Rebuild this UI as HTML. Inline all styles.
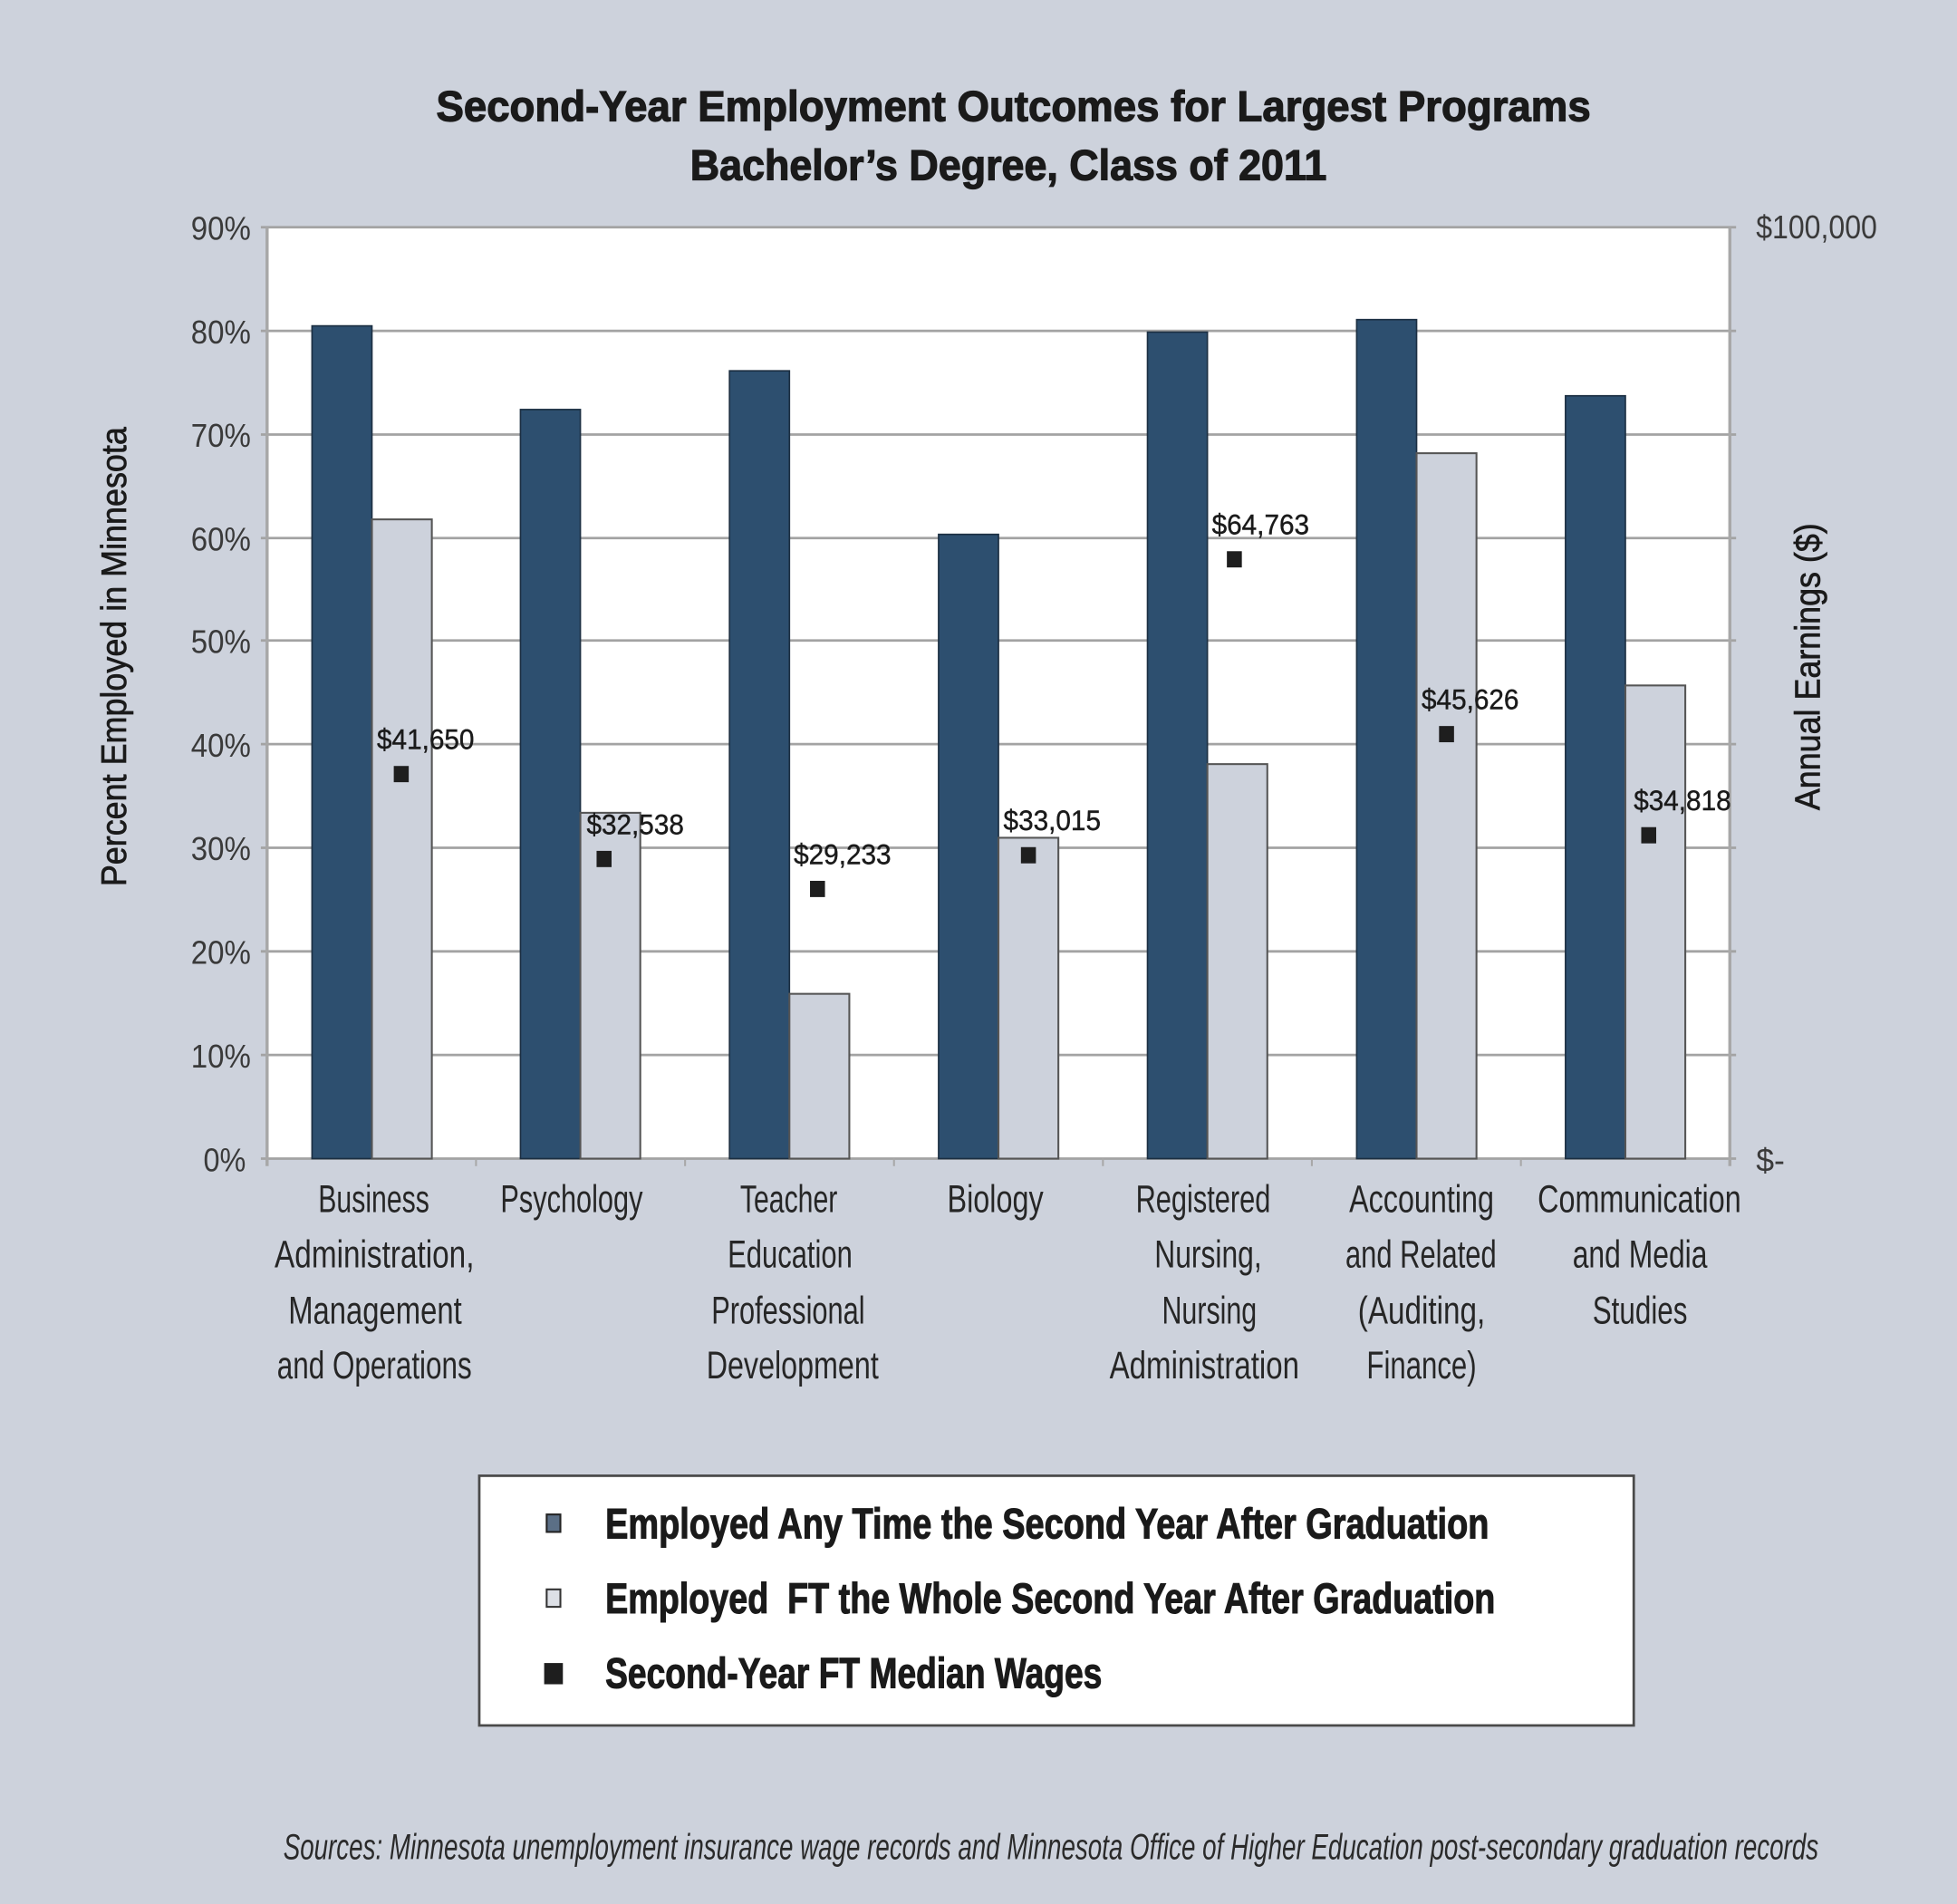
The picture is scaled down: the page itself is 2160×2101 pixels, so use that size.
<!DOCTYPE html>
<html><head><meta charset="utf-8"><style>
html,body{margin:0;padding:0;background:#cdd2dc;}
svg{display:block;}
text{font-family:"Liberation Sans Narrow","Liberation Sans",sans-serif;}
</style></head><body>
<svg width="2160" height="2101" viewBox="0 0 1568 1525" preserveAspectRatio="none" xmlns="http://www.w3.org/2000/svg">
<rect x="0" y="0" width="1568" height="1525" fill="#cdd2dc"/>
<!-- title -->
<g fill="#1a1a1a" stroke="#1a1a1a" stroke-width="0.9" font-weight="bold" font-size="34">
<text x="812" y="97" text-anchor="middle" textLength="925" lengthAdjust="spacingAndGlyphs">Second-Year Employment Outcomes for Largest Programs</text>
<text x="808" y="144" text-anchor="middle" textLength="510" lengthAdjust="spacingAndGlyphs">Bachelor’s Degree, Class of 2011</text>
</g>
<!-- plot area -->
<rect x="214" y="182" width="1172" height="746" fill="#ffffff"/>
<g stroke="#a3a3a3" stroke-width="2">
<line x1="209" y1="182" x2="1391" y2="182"/>
<line x1="209" y1="265" x2="1391" y2="265"/>
<line x1="209" y1="348" x2="1391" y2="348"/>
<line x1="209" y1="431" x2="1391" y2="431"/>
<line x1="209" y1="513" x2="1391" y2="513"/>
<line x1="209" y1="596" x2="1391" y2="596"/>
<line x1="209" y1="679" x2="1391" y2="679"/>
<line x1="209" y1="762" x2="1391" y2="762"/>
<line x1="209" y1="845" x2="1391" y2="845"/>
<line x1="209" y1="928" x2="1391" y2="928"/>
</g>
<g stroke="#a8a8a8" stroke-width="2.5">
<line x1="214" y1="182" x2="214" y2="934"/>
<line x1="1386" y1="182" x2="1386" y2="934"/>
</g>
<g stroke="#a8a8a8" stroke-width="1.5">
<line x1="381.4" y1="928" x2="381.4" y2="934"/>
<line x1="548.9" y1="928" x2="548.9" y2="934"/>
<line x1="716.3" y1="928" x2="716.3" y2="934"/>
<line x1="883.7" y1="928" x2="883.7" y2="934"/>
<line x1="1051.1" y1="928" x2="1051.1" y2="934"/>
<line x1="1218.6" y1="928" x2="1218.6" y2="934"/>
</g>
<!-- dark bars -->
<g fill="#2d4f6f" stroke="#1c2f42" stroke-width="1.2">
<rect x="250" y="261" width="48" height="667"/>
<rect x="417" y="328" width="48" height="600"/>
<rect x="584.5" y="297" width="48" height="631"/>
<rect x="752" y="428" width="48" height="500"/>
<rect x="919.4" y="266" width="48" height="662"/>
<rect x="1087" y="256" width="48" height="672"/>
<rect x="1254.3" y="317" width="48" height="611"/>
</g>
<!-- light bars -->
<g fill="#cdd2dc" stroke="#555" stroke-width="1.5">
<rect x="298" y="416" width="48" height="512"/>
<rect x="465" y="651" width="48" height="277"/>
<rect x="632.5" y="796" width="48" height="132"/>
<rect x="800" y="671" width="48" height="257"/>
<rect x="967.4" y="612" width="48" height="316"/>
<rect x="1135" y="363" width="48" height="565"/>
<rect x="1302.3" y="549" width="48" height="379"/>
</g>
<!-- markers -->
<g fill="#1e1e1e">
<rect x="315.5" y="613.5" width="12" height="13"/>
<rect x="478" y="681.5" width="12" height="13"/>
<rect x="649" y="705.5" width="12" height="13"/>
<rect x="818" y="678.5" width="12" height="13"/>
<rect x="983" y="441.5" width="12" height="13"/>
<rect x="1153" y="581.5" width="12" height="13"/>
<rect x="1315" y="662.5" width="12" height="13"/>
</g>
<g font-size="23" fill="#1a1a1a" stroke="#1a1a1a" stroke-width="0.3" text-anchor="middle">
<text x="341" y="600" textLength="78" lengthAdjust="spacingAndGlyphs">$41,650</text>
<text x="509" y="668" textLength="78" lengthAdjust="spacingAndGlyphs">$32,538</text>
<text x="675" y="692" textLength="78" lengthAdjust="spacingAndGlyphs">$29,233</text>
<text x="843" y="665" textLength="78" lengthAdjust="spacingAndGlyphs">$33,015</text>
<text x="1010" y="428" textLength="78" lengthAdjust="spacingAndGlyphs">$64,763</text>
<text x="1178" y="568" textLength="78" lengthAdjust="spacingAndGlyphs">$45,626</text>
<text x="1348" y="649" textLength="78" lengthAdjust="spacingAndGlyphs">$34,818</text>
</g>
<!-- left ticks -->
<g font-size="26" fill="#3a3a3a" text-anchor="end">
<text x="201" y="192" textLength="48" lengthAdjust="spacingAndGlyphs">90%</text>
<text x="201" y="275" textLength="48" lengthAdjust="spacingAndGlyphs">80%</text>
<text x="201" y="358" textLength="48" lengthAdjust="spacingAndGlyphs">70%</text>
<text x="201" y="441" textLength="48" lengthAdjust="spacingAndGlyphs">60%</text>
<text x="201" y="523" textLength="48" lengthAdjust="spacingAndGlyphs">50%</text>
<text x="201" y="606" textLength="48" lengthAdjust="spacingAndGlyphs">40%</text>
<text x="201" y="689" textLength="48" lengthAdjust="spacingAndGlyphs">30%</text>
<text x="201" y="772" textLength="48" lengthAdjust="spacingAndGlyphs">20%</text>
<text x="201" y="855" textLength="48" lengthAdjust="spacingAndGlyphs">10%</text>
<text x="197" y="938" textLength="34" lengthAdjust="spacingAndGlyphs">0%</text>
</g>
<g font-size="26" fill="#3a3a3a">
<text x="1407" y="191" textLength="97" lengthAdjust="spacingAndGlyphs">$100,000</text>
<text x="1407" y="938" textLength="23" lengthAdjust="spacingAndGlyphs">$-</text>
</g>
<!-- axis titles -->
<text transform="translate(101,526) rotate(-90)" text-anchor="middle" font-size="28" fill="#1a1a1a" stroke="#1a1a1a" stroke-width="0.5" textLength="368" lengthAdjust="spacingAndGlyphs">Percent Employed in Minnesota</text>
<text transform="translate(1458,534) rotate(-90)" text-anchor="middle" font-size="28" fill="#1a1a1a" stroke="#1a1a1a" stroke-width="0.5" textLength="230" lengthAdjust="spacingAndGlyphs">Annual Earnings ($)</text>
<!-- category labels -->
<g font-size="31" fill="#262626" text-anchor="middle">
<text x="299.5" y="971" textLength="89" lengthAdjust="spacingAndGlyphs">Business</text>
<text x="300" y="1015" textLength="160" lengthAdjust="spacingAndGlyphs">Administration,</text>
<text x="300.5" y="1060" textLength="139" lengthAdjust="spacingAndGlyphs">Management</text>
<text x="300" y="1104" textLength="156" lengthAdjust="spacingAndGlyphs">and Operations</text>
<text x="458" y="971" textLength="114" lengthAdjust="spacingAndGlyphs">Psychology</text>
<text x="632" y="971" textLength="78" lengthAdjust="spacingAndGlyphs">Teacher</text>
<text x="633" y="1015" textLength="100" lengthAdjust="spacingAndGlyphs">Education</text>
<text x="631.5" y="1060" textLength="123" lengthAdjust="spacingAndGlyphs">Professional</text>
<text x="635" y="1104" textLength="138" lengthAdjust="spacingAndGlyphs">Development</text>
<text x="797.5" y="971" textLength="77" lengthAdjust="spacingAndGlyphs">Biology</text>
<text x="964" y="971" textLength="108" lengthAdjust="spacingAndGlyphs">Registered</text>
<text x="968" y="1015" textLength="86" lengthAdjust="spacingAndGlyphs">Nursing,</text>
<text x="969" y="1060" textLength="76" lengthAdjust="spacingAndGlyphs">Nursing</text>
<text x="965" y="1104" textLength="152" lengthAdjust="spacingAndGlyphs">Administration</text>
<text x="1139" y="971" textLength="116" lengthAdjust="spacingAndGlyphs">Accounting</text>
<text x="1138.5" y="1015" textLength="121" lengthAdjust="spacingAndGlyphs">and Related</text>
<text x="1139" y="1060" textLength="102" lengthAdjust="spacingAndGlyphs">(Auditing,</text>
<text x="1139" y="1104" textLength="88" lengthAdjust="spacingAndGlyphs">Finance)</text>
<text x="1313.5" y="971" textLength="163" lengthAdjust="spacingAndGlyphs">Communication</text>
<text x="1314" y="1015" textLength="108" lengthAdjust="spacingAndGlyphs">and Media</text>
<text x="1314" y="1060" textLength="76" lengthAdjust="spacingAndGlyphs">Studies</text>
</g>
<!-- legend -->
<rect x="384" y="1182" width="925" height="200" fill="#ffffff" stroke="#4a4a4a" stroke-width="2"/>
<rect x="438" y="1213" width="11" height="14" fill="#5b6f86" stroke="#222" stroke-width="1.5"/>
<rect x="438" y="1273" width="11" height="14" fill="#dde0e6" stroke="#333" stroke-width="1.5"/>
<rect x="436" y="1332" width="15" height="17" fill="#1e1e1e"/>
<g font-size="34" font-weight="bold" fill="#1a1a1a" stroke="#1a1a1a" stroke-width="0.8">
<text x="485" y="1232" textLength="708" lengthAdjust="spacingAndGlyphs">Employed Any Time the Second Year After Graduation</text>
<text x="485" y="1292" textLength="713" lengthAdjust="spacingAndGlyphs">Employed&#160; FT the Whole Second Year After Graduation</text>
<text x="485" y="1352" textLength="398" lengthAdjust="spacingAndGlyphs">Second-Year FT Median Wages</text>
</g>
<!-- source -->
<text x="227" y="1489" font-size="29" font-style="italic" fill="#2a2a2a" textLength="1230" lengthAdjust="spacingAndGlyphs">Sources: Minnesota unemployment insurance wage records and Minnesota Office of Higher Education post-secondary graduation records</text>
</svg>
</body></html>
